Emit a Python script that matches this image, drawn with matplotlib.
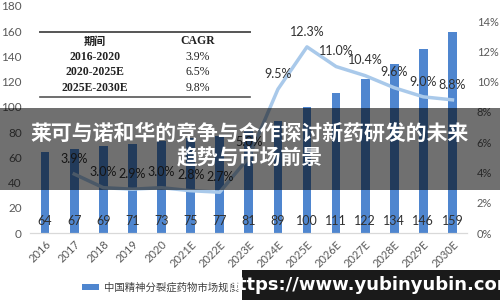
import numpy as np
import matplotlib.pyplot as plt
from matplotlib.patches import Rectangle
from matplotlib.lines import Line2D

plt.rcParams['font.family'] = ['Lato', 'Noto Sans CJK SC', 'DejaVu Sans']

# data
years = ['2016', '2017', '2018', '2019', '2020', '2021E', '2022E', '2023E',
         '2024E', '2025E', '2026E', '2027E', '2028E', '2029E', '2030E']
market = [64, 67, 69, 71, 73, 75, 77, 81, 89, 100, 111, 122, 134, 146, 159]
growth = [np.nan, 3.9, 3.0, 2.9, 3.0, 2.8, 2.7, 5.0, 9.5, 12.3, 11.0, 10.4, 9.6, 9.0, 8.8]
cagr_periods = ['2016-2020', '2020-2025E', '2025E-2030E']
cagr_values = ['3.9%', '6.5%', '9.8%']
title = '莱可与诺和华的竞争与合作探讨新药研发的未来\n趋势与市场前景'
legend_label = '中国精神分裂症药物市场规模（亿美元）'

bar_color = '#4f86cf'
line_color = '#a9c9ea'

fig = plt.figure(figsize=(5, 3), dpi=100)
ax = fig.add_axes([0.06, 0.223, 0.874, 0.757])
ax2 = ax.twinx()

x = np.arange(len(years))
bars = ax.bar(x, market, width=0.3, color=bar_color, zorder=2, label=legend_label)
for xi, v in zip(x, market):
    ax.annotate(str(v), (xi, 0), xytext=(0, 9), textcoords='offset points',
                ha='center', va='center', fontsize=9, color='#303030', zorder=5)

ax.set_xlim(-0.52, 14.5)
ax.set_ylim(0, 180)
ax.set_yticks(np.arange(0, 181, 20))
ax.set_xticks(x)
ax.set_xticklabels(years, rotation=45, ha='right', rotation_mode='anchor', fontsize=8, color='#595959')
ax.tick_params(axis='y', length=0, pad=6, labelsize=8.5, labelcolor='#595959')
ax.tick_params(axis='x', length=0, pad=4)

ax2.plot(x, growth, color=line_color, lw=2.5, zorder=3)
for xi, g in zip(x, growth):
    if np.isnan(g):
        continue
    ax2.annotate('%.1f%%' % g, (xi, g), xytext=(0, 11), textcoords='offset points',
                 ha='center', va='center', fontsize=9, color='#303030')
ax2.set_ylim(0, 15)
ax2.set_yticks(np.arange(0, 15, 2))
ax2.set_yticklabels(['%d%%' % t for t in range(0, 15, 2)])
ax2.tick_params(axis='y', length=0, pad=7, labelsize=8, labelcolor='#595959')

for a in (ax, ax2):
    for s in ['top', 'left', 'right']:
        a.spines[s].set_visible(False)
    a.spines['bottom'].set_color('#d9d9d9')

# CAGR table
fig.add_artist(Line2D([0.08, 0.5], [0.893, 0.893], color='#555555', lw=1.4, transform=fig.transFigure))
fig.add_artist(Line2D([0.08, 0.5], [0.677, 0.677], color='#555555', lw=1.2, transform=fig.transFigure))
fig.text(0.19, 0.862, '期间', ha='center', va='center', fontsize=8, fontweight='bold',
         family=['Noto Sans CJK SC'], color='#222222')
fig.text(0.396, 0.862, 'CAGR', ha='center', va='center', fontsize=8.5, fontweight='bold',
         family=['Liberation Serif'], color='#222222')
row_y = [0.81, 0.76, 0.707]
for ry, p, c in zip(row_y, cagr_periods, cagr_values):
    fig.text(0.19, ry, p, ha='center', va='center', fontsize=8.5, fontweight='bold',
             family=['Liberation Serif'], color='#222222')
    fig.text(0.396, ry, c, ha='center', va='center', fontsize=8.5,
             family=['Liberation Serif'], color='#222222')

# legend at the bottom
fig.legend(handles=[bars], labels=[legend_label], loc='center left', bbox_to_anchor=(0.145, 0.04),
           frameon=False, fontsize=7.5, handlelength=1.6, handleheight=0.5, handletextpad=0.5,
           labelcolor='#404040')

# dark overlay band with title
fig.add_artist(Rectangle((0, 0.367), 1, 0.273, transform=fig.transFigure,
                         facecolor='black', alpha=0.56, zorder=20))
fig.text(0.5, 0.517, title, ha='center', va='center', fontsize=15, fontweight='bold',
         color='white', family=['Noto Sans CJK SC'], linespacing=1.15, zorder=21)

# watermark box
fig.add_artist(Rectangle((0.484, 0), 0.516, 0.1, transform=fig.transFigure,
                         facecolor='#1a1a1a', zorder=20))
fig.text(0.742, 0.05, 'https://www.yubinyubin.com', ha='center', va='center', fontsize=13,
         fontweight='bold', color='white', family=['DejaVu Sans'], zorder=21)

fig.savefig('out.png', dpi=100)
